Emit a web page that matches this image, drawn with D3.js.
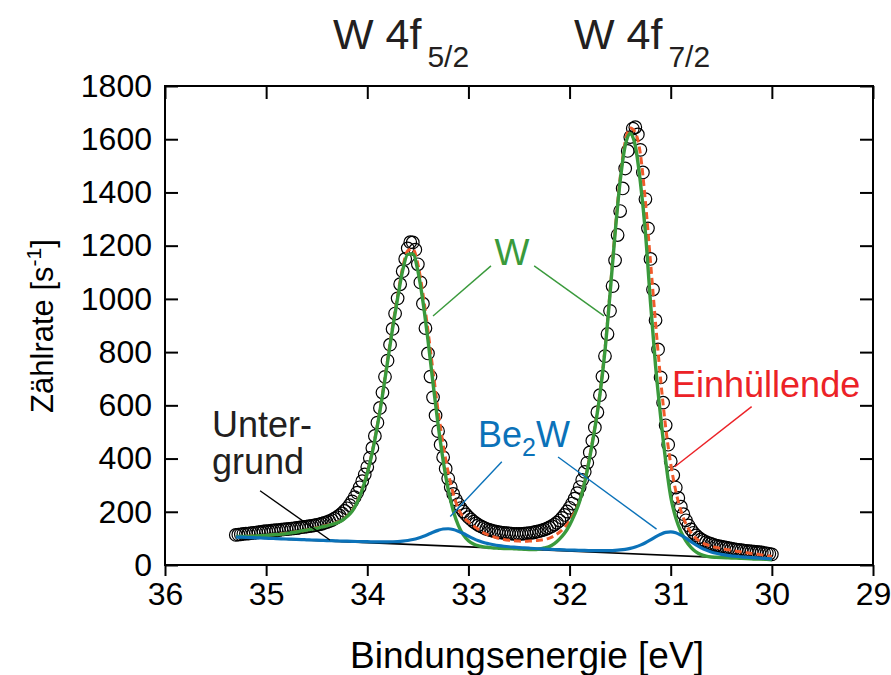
<!DOCTYPE html>
<html><head><meta charset="utf-8">
<script src="https://cdn.jsdelivr.net/npm/d3@7"></script>
<style>
body{margin:0;background:#fff;}
svg{display:block;font-family:"Liberation Sans",Arial,Helvetica,sans-serif;}
</style></head><body>
<svg id="chart" width="891" height="675"></svg>
<script>
// ---- measured data (binding energy in eV, count rate in 1/s) ----
const dataEnergy = [35.3,35.275,35.25,35.225,35.2,35.175,35.15,35.125,35.1,35.075,35.05,35.025,35,34.975,34.95,34.925,34.9,34.875,34.85,34.825,34.8,34.775,34.75,34.725,34.7,34.675,34.65,34.625,34.6,34.575,34.55,34.525,34.5,34.475,34.45,34.425,34.4,34.375,34.35,34.325,34.3,34.275,34.25,34.225,34.2,34.175,34.15,34.125,34.1,34.075,34.05,34.025,34,33.975,33.95,33.925,33.9,33.875,33.85,33.825,33.8,33.775,33.75,33.725,33.7,33.675,33.65,33.625,33.6,33.575,33.55,33.525,33.5,33.475,33.45,33.425,33.4,33.375,33.35,33.325,33.3,33.275,33.25,33.225,33.2,33.175,33.15,33.125,33.1,33.075,33.05,33.025,33,32.975,32.95,32.925,32.9,32.875,32.85,32.825,32.8,32.775,32.75,32.725,32.7,32.675,32.65,32.625,32.6,32.575,32.55,32.525,32.5,32.475,32.45,32.425,32.4,32.375,32.35,32.325,32.3,32.275,32.25,32.225,32.2,32.175,32.15,32.125,32.1,32.075,32.05,32.025,32,31.975,31.95,31.925,31.9,31.875,31.85,31.825,31.8,31.775,31.75,31.725,31.7,31.675,31.65,31.625,31.6,31.575,31.55,31.525,31.5,31.475,31.45,31.425,31.4,31.375,31.35,31.325,31.3,31.275,31.25,31.225,31.2,31.175,31.15,31.125,31.1,31.075,31.05,31.025,31,30.975,30.95,30.925,30.9,30.875,30.85,30.825,30.8,30.775,30.75,30.725,30.7,30.675,30.65,30.625,30.6,30.575,30.55,30.525,30.5,30.475,30.45,30.425,30.4,30.375,30.35,30.325,30.3,30.275,30.25,30.225,30.2,30.175,30.15,30.125,30.1,30.075,30.05,30.025,30];
const dataCounts = [113,114,115,117,118,118,120,121,122,123,
124,126,127,127,129,130,131,131,133,134,
135,136,137,138,139,140,142,143,144,146,
147,149,151,153,155,158,161,165,169,174,
180,186,194,203,213,225,239,255,272,292,
315,340,368,402,440,485,535,590,648,707,
768,828,887,945,1002,1055,1104,1150,1190,1213,
1212,1185,1130,1062,982,890,795,708,630,562,
503,452,405,362,325,293,267,246,229,214,
201,190,180,171,163,156,150,145,140,136,
133,130,127,125,123,122,121,120,119,118,
117,117,117,117,118,119,120,121,123,125,
127,130,133,137,141,146,152,159,167,177,
188,201,215,231,249,270,293,320,350,384,
423,467,517,574,638,708,785,868,955,1048,
1145,1240,1330,1415,1490,1556,1608,1640,1645,1618,
1560,1475,1375,1265,1150,1035,920,810,705,610,
525,452,390,337,291,252,219,191,168,149,
134,121,111,103,96,91,86,82,79,76,
73,71,69,67,65,63,61,60,58,57,
56,54,53,52,51,50,49,48,47,45,
44,42,40];

// ---- fit curves ----
const fitEnergy = [35.3,35.25,35.2,35.15,35.1,35.05,35,34.95,34.9,34.85,34.8,34.75,34.7,34.65,34.6,34.55,34.5,34.45,34.4,34.35,34.3,34.25,34.2,34.15,34.1,34.05,34,33.95,33.9,33.85,33.8,33.75,33.7,33.65,33.6,33.55,33.5,33.45,33.4,33.35,33.3,33.25,33.2,33.15,33.1,33.05,33,32.95,32.9,32.85,32.8,32.75,32.7,32.65,32.6,32.55,32.5,32.45,32.4,32.35,32.3,32.25,32.2,32.15,32.1,32.05,32,31.95,31.9,31.85,31.8,31.75,31.7,31.65,31.6,31.55,31.5,31.45,31.4,31.35,31.3,31.25,31.2,31.15,31.1,31.05,31,30.95,30.9,30.85,30.8,30.75,30.7,30.65,30.6,30.55,30.5,30.45,30.4,30.35,30.3,30.25,30.2,30.15,30.1,30.05,30];
const fitW = [107,107,107,108,109,110,111,113,114,116,
118,121,124,128,131,135,138,143,147,153,
158,167,182,202,235,283,345,424,523,637,
763,889,1003,1107,1167,1169,1106,991,845,683,
528,393,284,204,149,113,91,79,72,68,
66,64,63,62,62,61,60,59,58,58,
60,64,69,80,97,119,150,190,240,311,
405,514,640,805,1018,1246,1442,1576,1622,1575,
1439,1249,987,749,559,392,257,177,126,91,
66,49,39,33,30,29,28,27,26,26,
25,24,23,22,22,21,20];
const fitBe2W = [105.3,104.6,103.8,103.0,102.3,101.5,100.7,100.0,99.2,98.4,
97.7,96.9,96.2,95.5,94.7,94.0,93.3,92.6,91.9,91.3,
90.6,90.0,89.4,88.9,88.4,87.9,87.5,87.0,86.7,86.7,
86.8,87.3,88.1,89.6,92.0,95.8,100.8,107.2,114.8,123.1,
130.1,135.2,136.3,133.6,126.9,118.3,108.4,99.2,91.2,84.6,
79.9,76.0,72.9,70.5,68.5,66.9,65.4,64.2,63.1,62.0,
61.0,60.0,59.1,58.3,57.5,56.8,56.0,55.6,55.1,54.7,
54.2,54.0,53.8,54.0,54.3,55.2,56.6,58.8,62.3,67.6,
74.7,83.5,94.2,105.7,115.4,122.5,124.3,120.9,112.1,100.7,
87.6,75.3,64.8,56.1,49.2,44.0,40.1,37.1,34.5,32.6,
30.7,29.2,27.8,26.6,25.3,24.1,22.9];
const fitEnvelope = [107,107,108,109,109,110,112,113,115,117,
119,122,125,128,132,136,140,144,149,154,
160,169,184,204,238,286,348,428,527,642,
769,896,1012,1118,1181,1188,1131,1020,880,728,
580,452,348,268,212,180,162,147,134,121,
112,106,100,96,93,91,90,89,90,91,
93,96,101,110,123,141,165,199,244,314,
410,519,646,812,1026,1256,1454,1591,1642,1625,
1545,1365,1140,910,698,518,380,278,205,155,
122,100,86,77,71,66,62,58,55,52,
49,46,43,41,38,35,32];
const bgEnergy = [35.3, 30.0];
const bgCounts = [105, 20];

// ---- axes ----
const xTicks = [36,35,34,33,32,31,30,29];
const yTicks = [0,200,400,600,800,1000,1200,1400,1600,1800];

// ---- annotations (data coordinates) ----
const labelW = [32.57, 1127];
const leaderW = [[[32.777,1124],[33.35,936]], [[32.35,1124],[31.66,936]]];
const labelBe2W = [32.905, 443];
const leaderBe2W = [[[32.67,388],[33.18,182]], [[32.114,406],[31.14,135]]];
const labelEnv = [30.987, 631];
const leaderEnv = [[30.20,595],[30.96,369]];
const labelBg = [35.535, 481, 342];
const leaderBg = [[35.06,279],[34.37,94]];

const FF = '"Liberation Sans",Arial,Helvetica,sans-serif';
const C_GREEN = "#3a9a3c", C_BLUE = "#0b72b9", C_RED = "#ec2227", C_ENV = "#f05a2b", C_TXT = "#231f20";

const svg = d3.select("#chart");
const L = 165, R = 873, T = 86, B = 565;
const x = d3.scaleLinear().domain([36,29]).range([L,R]);
const y = d3.scaleLinear().domain([0,1800]).range([B,T]);

function styleAxis(g){
  g.attr("font-family",FF).attr("font-size",32);
  g.select(".domain").remove();
  g.selectAll(".tick line").attr("stroke","#000").attr("stroke-width",2);
  g.selectAll(".tick text").attr("fill","#000");
}
styleAxis(svg.append("g").attr("transform",`translate(0,${B})`)
  .call(d3.axisBottom(x).tickValues(xTicks).tickFormat(d3.format("d")).tickSize(11).tickPadding(6).tickSizeOuter(0)));
styleAxis(svg.append("g").attr("transform",`translate(0,${T})`)
  .call(d3.axisTop(x).tickValues(xTicks).tickFormat("").tickSize(-13).tickSizeOuter(0)));
styleAxis(svg.append("g").attr("transform",`translate(${L},0)`)
  .call(d3.axisLeft(y).tickValues(yTicks).tickFormat(d3.format("d")).tickSize(-13).tickPadding(13).tickSizeOuter(0)));
styleAxis(svg.append("g").attr("transform",`translate(${R},0)`)
  .call(d3.axisRight(y).tickValues(yTicks).tickFormat("").tickSize(-13).tickSizeOuter(0)));

svg.append("rect").attr("x",L).attr("y",T).attr("width",R-L).attr("height",B-T)
  .attr("fill","none").attr("stroke","#000").attr("stroke-width",2);

// ---- data circles ----
const pts = dataEnergy.map((e,i)=>[e,dataCounts[i]]);
svg.append("g").selectAll("circle").data(pts).join("circle")
  .attr("cx",d=>x(d[0])).attr("cy",d=>y(d[1])).attr("r",6.3)
  .attr("fill","none").attr("stroke","#000").attr("stroke-width",1.2);

// ---- curves ----
const line = d3.line().x(d=>x(d[0])).y(d=>y(d[1])).curve(d3.curveMonotoneX);
const zipFit = arr => fitEnergy.map((e,i)=>[e,arr[i]]);
svg.append("path").datum(bgEnergy.map((e,i)=>[e,bgCounts[i]])).attr("d",d3.line().x(d=>x(d[0])).y(d=>y(d[1])))
  .attr("fill","none").attr("stroke","#000").attr("stroke-width",1.6);
svg.append("path").datum(zipFit(fitEnvelope)).attr("d",line)
  .attr("fill","none").attr("stroke",C_ENV).attr("stroke-width",3).attr("stroke-dasharray","7,4");
svg.append("path").datum(zipFit(fitW)).attr("d",line)
  .attr("fill","none").attr("stroke",C_GREEN).attr("stroke-width",3.4);
svg.append("path").datum(zipFit(fitBe2W)).attr("d",line)
  .attr("fill","none").attr("stroke",C_BLUE).attr("stroke-width",3.2);

// ---- leaders ----
function leader(seg,color){
  svg.append("line").attr("x1",x(seg[0][0])).attr("y1",y(seg[0][1]))
    .attr("x2",x(seg[1][0])).attr("y2",y(seg[1][1]))
    .attr("stroke",color).attr("stroke-width",1.4);
}
leaderW.forEach(s=>leader(s,C_GREEN));
leaderBe2W.forEach(s=>leader(s,C_BLUE));
leader(leaderEnv,C_RED);
leader(leaderBg,"#000");

// ---- labels ----
svg.append("text").attr("x",x(labelW[0])).attr("y",y(labelW[1])).attr("text-anchor","middle")
  .attr("font-size",37).attr("fill",C_GREEN).text("W");
const tb = svg.append("text").attr("x",x(labelBe2W[0])).attr("y",y(labelBe2W[1]))
  .attr("font-size",36).attr("fill",C_BLUE);
tb.append("tspan").text("Be");
tb.append("tspan").attr("dy",9).attr("font-size",25).text("2");
tb.append("tspan").attr("dy",-9).text("W");
svg.append("text").attr("x",x(labelEnv[0])).attr("y",y(labelEnv[1]))
  .attr("font-size",36).attr("fill",C_RED).text("Einhüllende");
svg.append("text").attr("x",x(labelBg[0])).attr("y",y(labelBg[1]))
  .attr("font-size",36).attr("fill",C_TXT).text("Unter-");
svg.append("text").attr("x",x(labelBg[0])).attr("y",y(labelBg[2]))
  .attr("font-size",36).attr("fill",C_TXT).text("grund");

// ---- titles ----
[[333,"5/2"],[574,"7/2"]].forEach(([px,sub])=>{
  const t = svg.append("text").attr("x",px).attr("y",49).attr("font-size",43).attr("fill",C_TXT);
  t.append("tspan").text("W 4f");
  t.append("tspan").attr("dx",6).attr("dy",18).attr("font-size",30).text(sub);
});

// ---- axis titles ----
svg.append("text").attr("x",527).attr("y",668).attr("text-anchor","middle")
  .attr("font-size",37).attr("fill","#000").text("Bindungsenergie [eV]");
const yt = svg.append("text").attr("transform","translate(53,326) rotate(-90)")
  .attr("text-anchor","middle").attr("font-size",31).attr("fill","#000");
yt.append("tspan").text("Zählrate [s");
yt.append("tspan").attr("dy",-12).attr("font-size",21).text("-1");
yt.append("tspan").attr("dy",12).text("]");
</script>
</body></html>
